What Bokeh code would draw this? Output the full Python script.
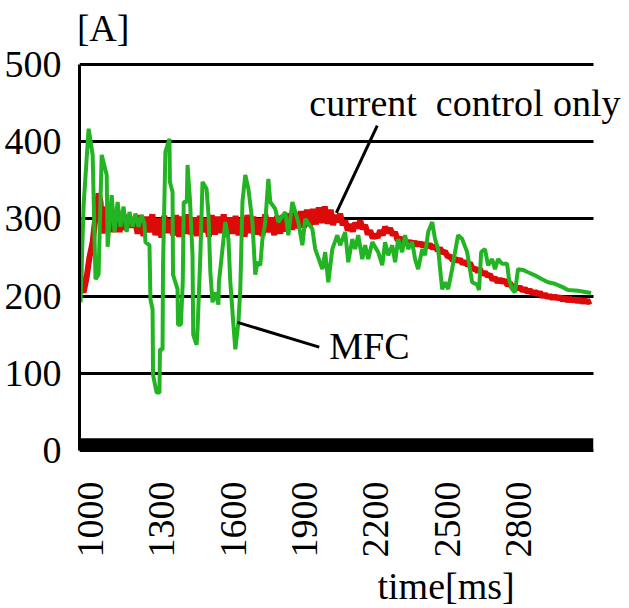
from bokeh.plotting import figure
from bokeh.models import FixedTicker, Label, BoxAnnotation, Range1d, Title
from bokeh.embed import file_html
from bokeh.resources import INLINE
import math

# ---------------- data ----------------
x_ticks = [1000, 1300, 1600, 1900, 2200, 2500, 2800]
y_ticks = [0, 100, 200, 300, 400, 500]

# current control only (red)
red_t = [955, 958, 971, 984, 996, 1009, 1021, 1034, 1042, 1051, 1059, 1072, 1084, 1097, 1110,
         1122, 1135, 1147, 1160, 1173,
         1185, 1198, 1210, 1223, 1235, 1248, 1260, 1273, 1285, 1298, 1310, 1323, 1335, 1348,
         1360, 1373, 1385, 1398, 1410, 1423, 1435, 1448, 1460, 1473, 1485, 1498, 1510, 1523,
         1535, 1548, 1560, 1573, 1585, 1598, 1610, 1623, 1635, 1648, 1660, 1673, 1685, 1698,
         1710, 1723, 1735, 1748, 1760, 1773, 1785, 1798, 1810, 1823, 1835, 1848, 1860, 1873,
         1885, 1898, 1910, 1923,
         1935, 1948, 1960, 1973, 1985, 1998, 2010, 2020,
         2029, 2040, 2050, 2060, 2071, 2082, 2092, 2103, 2113, 2124, 2134, 2145, 2155, 2166,
         2176, 2187, 2197, 2208, 2218, 2229, 2239, 2250, 2260, 2271, 2281, 2292, 2302, 2313,
         2323, 2334, 2344, 2355, 2365, 2376, 2386, 2397, 2407, 2418, 2428, 2439, 2449, 2460,
         2470, 2481, 2491, 2502, 2512, 2523, 2533, 2544, 2554, 2565, 2575, 2586, 2596, 2607,
         2617, 2628, 2638, 2649, 2659, 2670, 2680, 2691, 2701, 2712, 2722, 2733, 2743, 2754,
         2764, 2775, 2785, 2796, 2806, 2817, 2827, 2838, 2848, 2859, 2869, 2880, 2890, 2901,
         2911, 2922, 2932, 2943, 2953, 2964, 2974, 2985, 2995, 3006, 3016, 3027, 3037, 3048,
         3058, 3069, 3079, 3090, 3105]
red_a = [276, 212, 205, 225, 251, 270, 303, 333, 322, 281, 316, 283, 312, 283, 309,
         283, 307, 286, 305, 289,
         302, 281, 305, 278, 303, 283, 306, 279, 301, 276, 304, 282, 300, 279,
         305, 277, 303, 281, 306, 280, 302, 278, 304, 283, 301, 277, 305, 280,
         303, 282, 306, 278, 302, 281, 304, 279, 300, 277, 305, 282, 303, 280,
         301, 278, 306, 283, 302, 279, 304, 281, 305, 284, 307, 286, 308, 288,
         310, 289, 312, 291,
         313, 293, 315, 295, 316, 294, 312, 292,
         305, 296, 307, 292, 298, 285, 293, 284, 295, 288, 298, 287, 292, 280,
         285, 275, 280, 276, 285, 279, 290, 282, 288, 279, 283, 272, 276, 268,
         272, 268, 271, 267, 270, 266, 269, 265, 268, 264, 267, 262, 265, 259,
         262, 256, 258, 251, 252, 246, 249, 245, 248, 242, 245, 240, 243, 235,
         236, 232, 235, 228, 231, 226, 228, 221, 224, 218, 222, 218, 221, 214,
         217, 211, 214, 209, 212, 207, 210, 205, 208, 203, 206, 202, 205, 199,
         203, 198, 201, 197, 200, 197, 199, 195, 198, 194, 197, 194, 196, 193,
         196, 192, 195, 192, 194]

# MFC (green)
green_t = [955, 958, 971, 992, 1009, 1021, 1034, 1047, 1068, 1072, 1089, 1101, 1114, 1126,
           1139, 1152, 1164, 1177, 1189, 1202, 1215, 1227, 1231, 1248, 1252, 1261, 1263,
           1278, 1290, 1292, 1303, 1305, 1315, 1332, 1334, 1345, 1347, 1366, 1368, 1380,
           1388, 1392, 1405, 1408, 1418, 1429, 1432, 1446, 1450, 1462, 1471, 1488, 1496,
           1504, 1513, 1525, 1538, 1540, 1555, 1567, 1580, 1588, 1601, 1609, 1622, 1630,
           1639, 1651, 1664, 1681, 1693, 1702, 1714, 1723, 1735, 1748, 1756, 1777, 1790,
           1819, 1832, 1849, 1874, 1891, 1903, 1933, 1945, 1975, 1987, 2000, 2017, 2038,
           2050, 2071, 2084, 2101, 2113, 2126, 2143, 2155, 2168, 2185, 2210, 2227, 2239,
           2252, 2269, 2281, 2294, 2311, 2323, 2336, 2353, 2365, 2378, 2395, 2407, 2420,
           2437, 2449, 2462, 2479, 2491, 2504, 2521, 2533, 2546, 2563, 2584, 2605, 2626,
           2634, 2643, 2659, 2672, 2689, 2701, 2714, 2731, 2752, 2760, 2773, 2785, 2798,
           2819, 2840, 2869, 2899, 2924, 2953, 2983, 3008, 3050, 3105]
green_a = [277, 192, 318, 417, 383, 222, 228, 383, 357, 264, 331, 283, 322, 290,
           316, 283, 309, 290, 307, 290, 305, 294, 270, 266, 196, 183, 98,
           75, 75, 131, 131, 240, 387, 404, 348, 335, 228, 209, 163, 163,
           218, 322, 322, 370, 326, 253, 150, 137, 156, 253, 348, 339, 306,
           231, 192, 205, 189, 218, 261, 296, 274, 218, 163, 131, 166, 209,
           322, 357, 339, 296, 228, 244, 240, 274, 296, 352, 322, 313, 296,
           309, 279, 322, 296, 266, 300, 287, 261, 235, 257, 218, 261, 279,
           266, 283, 244, 274, 261, 279, 248, 266, 248, 270, 257, 240, 270,
           253, 266, 244, 274, 257, 279, 261, 270, 248, 235, 261, 253, 283,
           296, 274, 261, 209, 218, 209, 235, 257, 279, 274, 257, 218, 215,
           208, 257, 261, 240, 248, 235, 248, 242, 242, 222, 209, 205, 235,
           234, 231, 227, 222, 218, 216, 212, 208, 207, 204]

# annotation anchors (data units)
cc_line_t = [2206, 2034]
cc_line_a = [421, 308]
mfc_line_t = [1618, 1962]
mfc_line_a = [166, 134]

FONT = "Liberation Serif"
FS = "38px"
PLOT_END = 3115.4   # right end of the drawn chart area (ms)

p = figure(width=629, height=608, output_backend="svg", toolbar_location=None,
           x_range=Range1d(953.7, 3266.8), y_range=Range1d(-3.9, 583.1),
           min_border_left=79, min_border_right=0, min_border_top=0,
           min_border_bottom=150, title=None)
p.outline_line_color = None
p.background_fill_color = "white"
p.border_fill_color = "white"

# grid
p.xgrid.grid_line_color = None
p.ygrid.ticker = FixedTicker(ticks=y_ticks)
p.ygrid.grid_line_color = "black"
p.ygrid.grid_line_width = 3

# y axis
p.yaxis.ticker = FixedTicker(ticks=y_ticks)
p.yaxis.bounds = (0, 500)
p.yaxis.axis_line_color = "black"
p.yaxis.axis_line_width = 3
p.yaxis.major_tick_line_color = None
p.yaxis.minor_tick_line_color = None
p.yaxis.major_label_text_font = FONT
p.yaxis.major_label_text_font_size = FS
p.yaxis.major_label_text_color = "black"
p.yaxis.major_label_standoff = 12

# x axis
p.xaxis.ticker = FixedTicker(ticks=x_ticks)
p.xaxis.axis_line_color = None
p.xaxis.major_tick_line_color = None
p.xaxis.minor_tick_line_color = None
p.xaxis.major_label_orientation = math.pi / 2
p.xaxis.major_label_text_font = FONT
p.xaxis.major_label_text_font_size = FS
p.xaxis.major_label_text_color = "black"
p.xaxis.major_label_standoff = 22

# x axis title below
xt = Title(text="time[ms]", align="left", offset=298, standoff=4,
           text_font=FONT, text_font_size=FS, text_font_style="normal",
           text_color="black")
p.add_layout(xt, "below")

# thick zero band
p.add_layout(BoxAnnotation(bottom=-1, top=16, right=PLOT_END, fill_color="black",
                           fill_alpha=1.0, line_color=None))

# series
p.line(red_t, red_a, line_color="#DD0A0A", line_width=6)
p.line(green_t, green_a, line_color="#22B422", line_width=4)

# callout lines
p.line(cc_line_t, cc_line_a, line_color="black", line_width=3)
p.line(mfc_line_t, mfc_line_a, line_color="black", line_width=3)

# blank the area right of the chart (gridlines end there)
p.add_layout(BoxAnnotation(left=PLOT_END, fill_color="white", fill_alpha=1.0,
                           line_color=None))

# texts
def add_text(x, y, s):
    p.add_layout(Label(x=x, y=y, text=s, text_font=FONT, text_font_size=FS,
                       text_color="black", text_align="left",
                       text_baseline="middle"))

add_text(942, 547, "[A]")
add_text(1920, 450, "current\u00a0 control only")
add_text(2004, 135, "MFC")

open("out.html", "w").write(file_html(p, INLINE))
